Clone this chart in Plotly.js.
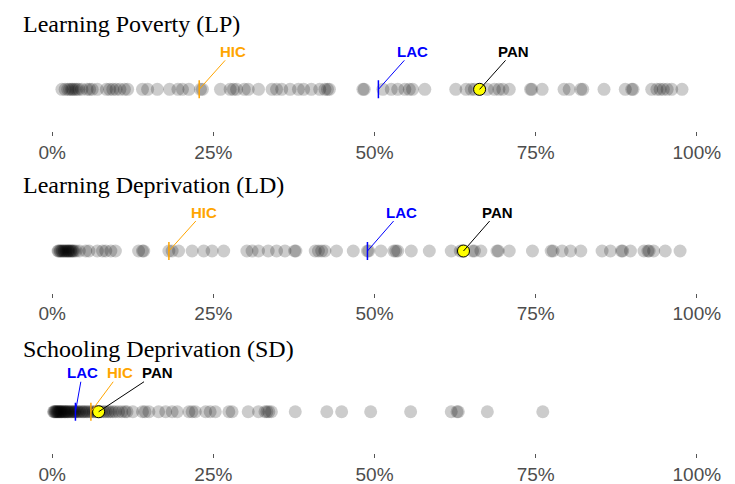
<!DOCTYPE html>
<html>
<head>
<meta charset="utf-8">
<script src="https://cdn.plot.ly/plotly-3.0.1.min.js"></script>
<style>html,body{margin:0;padding:0;background:#fff;}#chart{width:735px;height:484px;}</style>
</head>
<body>
<div id="chart"></div>
<script>
// ---- Data (values in %) ----
const panelTitles = ["Learning Poverty (LP)", "Learning Deprivation (LD)", "Schooling Deprivation (SD)"];
const tickVals = [0, 25, 50, 75, 100];
const tickLabels = ["0%", "25%", "50%", "75%", "100%"];

const lpValues = [1.5, 2.0, 2.4, 2.7, 3.0, 3.2, 3.5, 3.8, 4.1, 4.6, 5.4, 5.8, 6.2, 7.0, 8.4, 8.9, 9.4, 9.9,
  10.5, 11.2, 11.7, 14.0, 14.8, 16.3, 18.2, 19.5, 20.2, 21.2, 23.0, 23.3, 26.1, 27.6, 28.1, 28.6, 29.8, 30.4,
  32.0, 34.1, 34.8, 35.6, 36.9, 38.2, 39.0, 40.2, 41.5, 42.3, 42.7, 43.0, 48.2, 48.4, 51.3, 52.6, 53.6,
  54.7, 55.4, 55.9, 57.8, 62.6, 64.2, 65.0, 65.5, 66.3, 67.5, 68.6, 69.3, 69.9, 70.9, 74.2, 74.4, 76.0,
  79.4, 80.2, 82.0, 82.3, 85.6, 88.9, 89.9, 90.1, 93.0, 93.8, 94.3, 94.8, 95.4, 96.1, 97.7];

const ldValues = [0.9, 1.0, 1.2, 1.3, 1.5, 1.6, 1.8, 1.9, 2.1, 2.2, 2.4, 2.5, 2.6, 2.8, 2.9, 3.1, 3.2, 3.4,
  3.7, 4.2, 5.2, 5.7, 7.0, 7.8, 8.3, 9.1, 9.8, 13.4, 14.0, 14.2, 18.1, 18.6, 19.6, 21.7, 23.5, 24.8, 26.6,
  30.2, 31.0, 32.0, 33.5, 34.8, 36.1, 37.6, 37.8, 40.8, 41.3, 41.8, 42.3, 44.1, 46.7, 48.9, 49.1, 51.0,
  53.0, 53.3, 53.6, 55.7, 58.5, 61.9, 63.3, 63.6, 65.2, 65.5, 66.5, 69.0, 69.2, 70.9, 74.5, 77.4, 77.7,
  79.1, 80.4, 82.0, 85.3, 86.6, 88.3, 88.5, 89.7, 91.8, 92.4, 92.6, 93.3, 95.1, 97.4];

const sdValues = [0.2, 0.3, 0.4, 0.5, 0.6, 0.7, 0.8, 0.9, 1.0, 1.1, 1.2, 1.3, 1.4, 1.5, 1.6, 1.8, 1.9, 2.0,
  2.1, 2.3, 2.4, 2.5, 2.7, 2.9, 3.0, 3.2, 3.4, 3.5, 3.7, 3.9, 4.1, 4.3, 4.6, 4.8, 5.0, 5.3, 5.5, 5.8, 6.1,
  6.4, 6.7, 7.0, 7.3, 7.6, 8.0, 8.3, 8.7, 9.0, 9.4, 9.8, 10.3, 10.8, 11.3, 11.6, 12.5, 14.0, 14.4, 15.0,
  16.5, 17.6, 18.6, 19.4, 21.2, 21.7, 22.2, 23.8, 24.5, 25.3, 27.4, 27.9, 30.4, 32.0, 33.0, 33.3, 33.6,
  34.0, 37.7, 42.6, 44.9, 49.4, 55.6, 61.9, 62.8, 63.0, 67.5, 76.1];

const panValues = [66.3, 63.8, 7.2];   // PAN per panel (LP, LD, SD)
const hicValues = [22.8, 18.1, 6.0];
const lacValues = [50.6, 48.9, 3.6];

// ---- Styling ----
const allValues = [lpValues, ldValues, sdValues];
const domains = [[0.7293, 0.9161], [0.3953, 0.582], [0.0632, 0.25]];
const titleY = [0.950, 0.618, 0.279];
const hicAx = [34, 35, 29], lacAx = [34, 34, 7], panAx = [34, 34, 59];
const labelAy = [-38, -39, -39];
const yRange = [-0.855, 1];
const segHalf = 0.185;
const HIC_COLOR = "#FFA500", LAC_COLOR = "#0000FF";

const traces = [];
const annotations = [];
const layout = {
  width: 735, height: 484,
  margin: {l: 20, r: 4, t: 0, b: 0},
  paper_bgcolor: "#ffffff", plot_bgcolor: "#ffffff",
  showlegend: false, hovermode: false
};

allValues.forEach((vals, i) => {
  const n = i === 0 ? "" : String(i + 1);
  const xa = "x" + n, ya = "y" + n;
  layout["xaxis" + n] = {
    domain: [0, 1], anchor: ya, range: [-5, 105.3],
    tickvals: tickVals, ticktext: tickLabels,
    tickfont: {family: "Liberation Sans, Arial, sans-serif", size: 19, color: "#4d4d4d"},
    ticks: "outside", ticklen: 4, tickwidth: 1, tickcolor: "#555555",
    showgrid: false, zeroline: false, showline: false, fixedrange: true
  };
  layout["yaxis" + n] = {
    domain: domains[i], anchor: xa, range: yRange, visible: false, fixedrange: true
  };
  traces.push({
    type: "scatter", mode: "markers", xaxis: xa, yaxis: ya,
    x: vals, y: vals.map(() => 0),
    marker: {size: 13, color: "rgba(0,0,0,0.2)", line: {width: 0}},
    cliponaxis: false
  });
  traces.push({
    type: "scatter", mode: "lines", xaxis: xa, yaxis: ya,
    x: [hicValues[i], hicValues[i]], y: [-segHalf, segHalf],
    line: {color: HIC_COLOR, width: 1.5}
  });
  traces.push({
    type: "scatter", mode: "lines", xaxis: xa, yaxis: ya,
    x: [lacValues[i], lacValues[i]], y: [-segHalf, segHalf],
    line: {color: LAC_COLOR, width: 1.5}
  });
  traces.push({
    type: "scatter", mode: "markers", xaxis: xa, yaxis: ya,
    x: [panValues[i]], y: [0],
    marker: {size: 12, color: "#FFFF00", line: {width: 1, color: "#000000"}}
  });
  const lbl = (text, xv, color, ax) => ({
    xref: xa, yref: ya, x: xv, y: 0, text: text,
    showarrow: true, arrowhead: 0, arrowwidth: 1, arrowcolor: color,
    standoff: 0, startstandoff: 0, ax: ax, ay: labelAy[i],
    font: {family: "Liberation Sans, Arial, sans-serif", size: 15, color: color, weight: "bold"},
    borderpad: 0
  });
  annotations.push(lbl("HIC", hicValues[i], HIC_COLOR, hicAx[i]));
  annotations.push(lbl("LAC", lacValues[i], LAC_COLOR, lacAx[i]));
  annotations.push(lbl("PAN", panValues[i], "#000000", panAx[i]));
  annotations.push({
    xref: "paper", yref: "paper", x: 0.002, y: titleY[i], xanchor: "left", yanchor: "middle",
    text: panelTitles[i], showarrow: false,
    font: {family: "Liberation Serif, Times New Roman, serif", size: 24, color: "#000000"}
  });
});
layout.annotations = annotations;

Plotly.newPlot("chart", traces, layout, {displayModeBar: false, staticPlot: true});
</script>
</body>
</html>
